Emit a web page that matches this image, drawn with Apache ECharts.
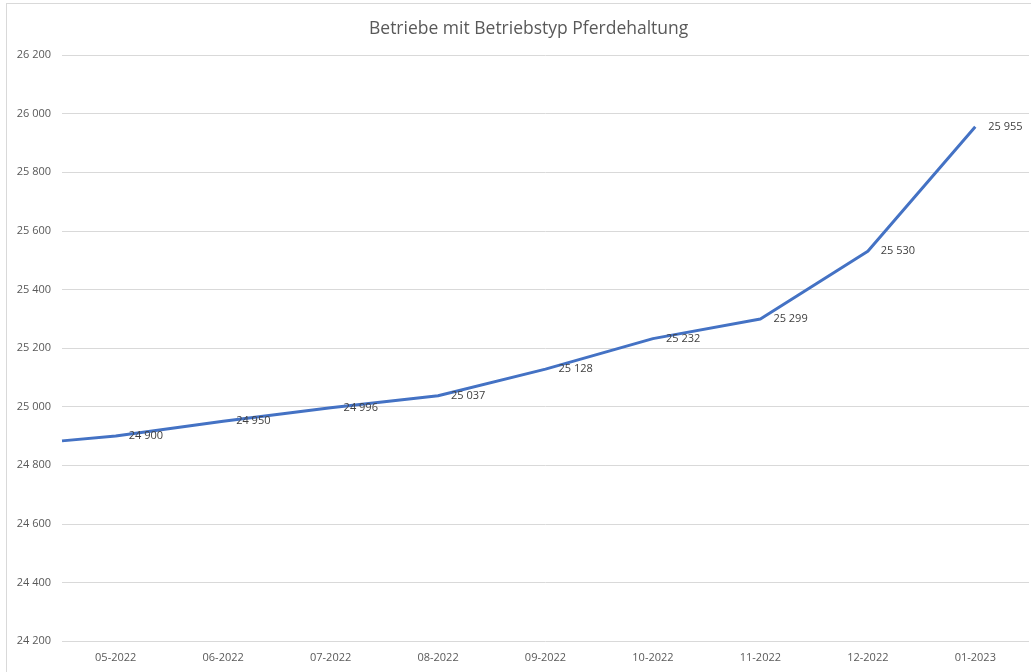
<!DOCTYPE html>
<html>
<head>
<meta charset="utf-8">
<script src="https://cdn.jsdelivr.net/npm/echarts@6/dist/echarts.min.js"></script>
<style>
  html, body { margin: 0; padding: 0; background: #fff; }
  #frame {
    position: absolute; left: 6px; top: 3px; width: 1030px; height: 680px;
    border-left: 1px solid #d9d9d9; border-top: 1px solid #d9d9d9;
  }
  #chart { position: absolute; left: 0; top: 0; width: 1031px; height: 672px; }
</style>
</head>
<body>
<div id="frame"></div>
<div id="chart"></div>
<script>
// Monate auf der x-Achse
var months = ['05-2022', '06-2022', '07-2022', '08-2022', '09-2022',
              '10-2022', '11-2022', '12-2022', '01-2023'];
// Anzahl Betriebe je Monat
var betriebe = [24900, 24950, 24996, 25037, 25128, 25232, 25299, 25530, 25955];
// Wert am linken Rand (Vormonat, abgeschnitten)
var leadValue = 24883;
var yTicks = { min: 24200, max: 26200, step: 200 };

function fmt(v) {
  return String(v).replace(/\B(?=(\d{3})+(?!\d))/g, ' ');
}

var points = [[-0.5, leadValue]];
betriebe.forEach(function (v, i) { points.push([i, v]); });

var chart = echarts.init(document.getElementById('chart'));
var font = "'Open Sans', 'Liberation Sans', sans-serif";

var option = {
  animation: false,
  title: {
    text: 'Betriebe mit Betriebstyp Pferdehaltung',
    left: 364,
    top: 15,
    textStyle: { color: '#595959', fontSize: 17.5, fontWeight: 'normal', fontFamily: font }
  },
  grid: { left: 62, right: 2, top: 55, bottom: 31 },
  xAxis: [
    {
      type: 'category',
      data: months,
      boundaryGap: true,
      axisLine: { show: false },
      axisTick: { show: false },
      axisLabel: { color: '#595959', fontSize: 11, margin: 11, fontFamily: font }
    },
    {
      type: 'value',
      min: -0.5,
      max: months.length - 0.5,
      show: false
    }
  ],
  yAxis: {
    type: 'value',
    min: yTicks.min,
    max: yTicks.max,
    interval: yTicks.step,
    axisLine: { show: false },
    axisTick: { show: false },
    axisLabel: { color: '#595959', fontSize: 11, margin: 11, fontFamily: font, formatter: fmt },
    splitLine: { lineStyle: { color: '#d9d9d9', width: 1 } }
  },
  series: [
    {
      type: 'line',
      xAxisIndex: 1,
      data: points,
      showSymbol: true,
      showAllSymbol: true,
      symbol: 'circle',
      symbolSize: 2,
      itemStyle: { color: 'rgba(0,0,0,0)' },
      lineStyle: { color: '#4472C4', width: 3 },
      label: {
        show: true,
        position: 'right',
        distance: 12,
        color: '#404040',
        fontSize: 11,
        fontFamily: font,
        formatter: function (p) { return p.dataIndex === 0 ? '' : fmt(p.value[1]); }
      }
    }
  ]
};

chart.setOption(option);
</script>
</body>
</html>
